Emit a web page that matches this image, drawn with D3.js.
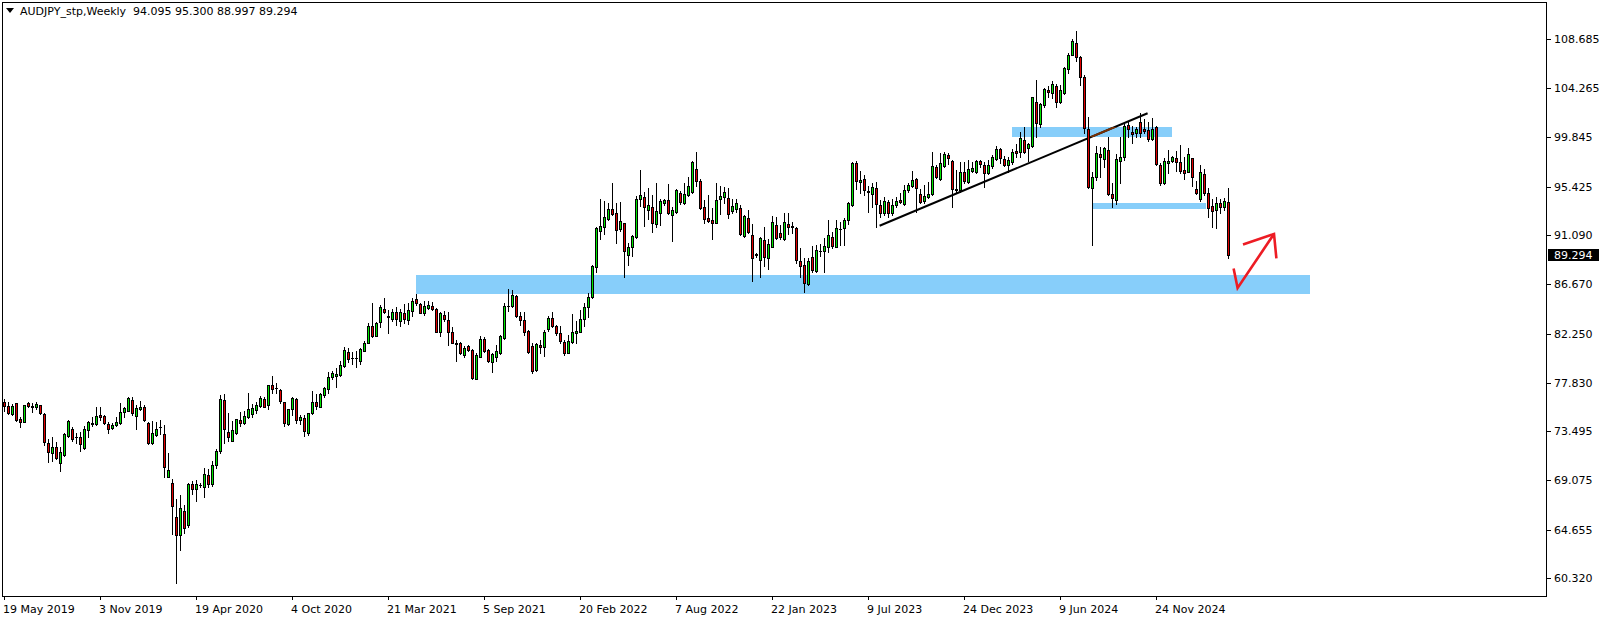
<!DOCTYPE html>
<html><head><meta charset="utf-8">
<script src="https://cdn.jsdelivr.net/npm/d3@7"></script>
<style>
html,body{margin:0;padding:0;background:#fff;overflow:hidden;}
svg{display:block;}
text{font-family:"DejaVu Sans",Tahoma,sans-serif;font-size:11px;fill:#000;white-space:pre;}
</style></head><body>
<svg id="chart" width="1604" height="621"></svg>
<script>
// ---------------- DATA ----------------
const symbolTitle = "AUDJPY_stp,Weekly";
const firstWeek = "2019-05-19";           // week of the first candle
const opens = [
76.11,75.75,75.00,75.99,74.59,74.35,75.99,75.75,75.63,75.81,
75.03,72.40,71.57,72.04,70.61,71.33,73.06,73.72,73.00,72.94,
72.01,73.57,74.14,74.11,74.92,74.83,74.11,73.75,74.08,74.20,
75.18,75.33,76.26,74.86,75.48,75.63,74.23,72.40,73.12,73.87,
73.21,69.41,68.81,65.79,64.21,66.30,65.10,68.72,68.28,68.66,
68.45,69.53,68.72,70.50,71.70,76.27,73.40,72.65,73.31,74.50,
74.23,74.80,75.01,75.40,75.76,76.39,75.82,77.61,77.34,77.16,
76.09,74.12,75.46,76.39,74.50,74.68,73.37,75.16,76.09,75.70,
76.75,77.31,78.33,78.48,78.54,79.38,80.60,80.04,80.04,79.80,
80.72,81.44,82.93,82.07,83.32,84.46,83.83,83.53,84.19,83.41,
84.12,83.50,84.31,85.33,84.88,84.13,84.55,84.73,84.43,82.43,
83.92,83.44,82.37,81.44,81.38,80.36,81.14,80.78,78.18,80.18,
81.74,80.75,79.73,80.18,80.48,81.89,84.73,84.76,85.63,83.83,
83.47,82.49,81.14,78.96,81.20,81.02,82.64,83.65,82.93,82.28,
81.50,80.54,81.53,82.28,82.43,83.53,84.67,85.51,88.20,91.48,
91.79,92.50,93.40,93.04,91.64,92.14,89.30,90.00,90.89,94.36,
94.48,93.34,93.58,92.08,93.10,93.94,94.24,92.92,93.16,94.90,
93.94,94.66,94.93,96.99,95.91,93.58,92.62,92.44,92.20,94.36,
94.54,94.42,93.22,93.40,93.49,91.01,92.62,91.10,89.36,88.83,
90.65,89.00,90.05,91.97,91.25,90.71,92.08,91.91,91.72,88.76,
88.37,86.70,89.09,87.89,89.66,89.69,89.99,90.88,90.05,91.60,
91.69,92.42,93.79,97.59,95.85,96.12,94.99,94.75,95.29,93.82,
93.04,94.06,93.04,93.76,94.24,93.88,95.14,95.50,96.09,94.75,
94.15,94.54,94.78,97.17,96.09,97.29,98.28,97.74,95.14,95.14,
96.72,95.85,96.87,96.78,97.74,97.35,96.63,97.29,97.89,98.78,
97.89,97.35,97.68,98.64,98.52,99.63,98.94,99.12,103.03,101.06,
102.73,104.11,103.87,104.47,103.06,103.87,105.96,107.28,108.30,107.04,
105.25,100.58,95.32,96.27,98.37,97.89,98.73,94.78,94.24,97.77,
98.07,100.94,100.31,100.22,101.24,100.61,100.52,99.69,100.76,97.35,
95.80,97.53,97.74,98.01,97.62,96.93,96.78,97.98,95.23,94.30,
96.58,94.84,93.70,93.34,94.00,93.58,94.095];
const highs = [
76.35,76.14,75.90,76.05,74.79,75.87,76.14,75.99,76.14,75.87,
75.15,72.79,73.00,72.55,72.10,73.30,74.50,73.84,73.30,73.42,
73.96,74.38,74.80,75.63,75.63,74.95,74.35,74.20,74.74,76.05,
75.69,76.59,76.56,75.81,76.23,75.87,74.35,74.44,74.35,74.50,
74.02,71.51,69.17,67.41,67.74,66.87,68.87,69.05,69.11,68.81,
70.16,70.13,70.80,71.90,76.71,76.84,75.10,74.42,74.62,75.22,
75.31,76.90,75.94,76.12,76.66,76.60,77.67,78.45,77.79,77.28,
76.15,75.52,76.60,76.48,74.98,74.98,75.16,77.07,76.84,76.90,
77.49,78.81,78.90,79.17,79.83,81.02,80.93,80.63,80.72,80.99,
81.56,83.23,85.03,83.32,84.85,85.42,84.37,84.43,84.61,84.49,
84.91,85.03,85.42,85.77,85.03,85.15,85.18,85.09,84.52,84.16,
84.31,84.19,82.87,81.68,81.50,81.14,81.26,80.90,80.48,82.04,
81.98,80.84,80.54,81.26,82.16,84.97,86.25,86.16,85.71,84.22,
84.19,82.58,81.44,81.44,81.68,82.58,83.86,84.22,83.02,82.96,
81.65,82.16,84.01,83.38,84.37,85.03,85.87,88.44,91.84,94.30,
94.15,93.95,95.79,94.00,94.06,92.17,90.35,91.10,94.60,96.93,
94.99,95.31,94.69,95.73,94.30,94.36,95.64,93.64,95.19,95.07,
95.79,96.27,97.77,98.54,96.15,94.24,94.69,93.49,95.79,95.49,
95.43,95.28,94.30,94.30,93.76,92.92,93.34,92.08,89.45,90.89,
91.79,90.71,92.80,92.74,91.97,93.10,93.04,92.29,91.79,89.90,
89.00,89.00,90.11,90.20,90.30,90.80,92.44,91.35,92.44,92.30,
92.62,94.08,97.68,97.77,96.87,96.48,95.50,95.74,95.88,94.24,
94.54,94.24,94.30,94.54,94.84,95.58,95.79,96.87,96.18,95.20,
95.58,95.88,98.58,97.38,98.43,98.58,98.49,97.83,96.93,97.68,
97.68,97.83,97.68,97.83,97.83,97.68,97.83,98.28,99.08,98.87,
98.16,98.10,98.85,99.27,100.34,100.76,99.39,103.51,105.01,102.91,
104.26,104.47,104.92,104.65,104.56,106.20,107.40,108.66,109.37,107.16,
105.46,101.72,96.78,99.09,99.03,99.03,99.87,95.74,98.37,99.93,
101.03,101.27,100.88,100.82,102.00,101.48,101.27,101.57,100.88,97.53,
97.98,98.73,98.19,98.67,99.15,98.07,98.88,98.04,95.98,97.38,
97.00,95.30,94.30,94.50,94.30,94.45,95.300];
const lows = [
75.33,75.03,74.94,74.44,73.90,74.32,75.69,75.21,75.45,75.00,
72.22,70.70,70.85,70.97,69.95,71.27,73.00,72.64,72.46,71.75,
71.86,73.00,73.96,74.05,74.50,74.14,73.36,73.69,73.96,74.14,
74.80,75.27,74.97,73.72,75.39,74.44,72.34,72.34,73.06,73.24,
69.35,69.35,64.24,59.85,62.83,64.39,64.87,67.86,67.26,68.51,
67.62,68.45,68.60,70.20,71.50,72.47,72.65,72.60,73.25,73.97,
74.14,74.68,74.80,75.10,75.70,75.64,75.52,76.90,76.96,76.00,
73.97,74.06,74.92,74.26,74.14,73.07,73.16,75.04,75.46,75.64,
76.60,76.90,78.21,77.49,78.45,79.26,79.74,79.53,79.23,79.53,
80.66,81.38,81.98,82.04,82.87,84.07,82.28,83.41,83.03,82.97,
83.20,83.11,83.86,84.79,84.07,83.95,84.43,84.37,82.40,82.04,
83.41,81.26,81.38,79.82,80.42,80.18,80.72,78.15,78.15,80.12,
80.63,79.73,78.84,79.82,80.42,81.80,84.31,84.67,83.77,83.02,
82.16,80.54,78.75,78.87,80.48,80.24,82.52,82.87,82.10,81.38,
80.33,80.48,81.44,81.44,82.37,82.90,83.77,85.42,87.81,90.74,
91.20,92.44,92.86,90.41,91.49,87.30,88.44,89.21,90.80,93.70,
91.91,92.50,91.40,91.79,91.99,93.82,92.98,90.53,93.10,93.88,
93.88,94.60,94.84,95.49,93.40,92.14,92.26,90.77,92.14,92.98,
93.94,92.59,93.10,93.16,91.13,90.95,91.31,87.00,89.15,87.36,
88.32,88.08,89.99,90.71,90.71,90.65,91.19,91.24,88.61,87.36,
86.01,86.64,87.80,87.80,89.20,87.80,89.60,89.90,89.99,90.20,
90.20,92.10,93.70,95.20,94.84,94.69,93.19,93.64,91.79,92.69,
92.89,92.75,92.89,93.64,93.94,93.79,94.99,95.38,93.19,93.94,
94.00,94.39,94.72,96.18,96.03,97.23,97.47,93.64,94.99,94.99,
95.79,95.74,96.78,96.63,97.23,95.44,96.57,97.08,97.83,97.53,
97.26,96.78,97.47,98.13,98.13,98.49,97.77,99.03,99.87,100.82,
102.61,103.45,103.36,102.61,102.97,103.75,105.61,107.22,106.74,104.53,
100.22,95.29,90.18,96.04,96.33,97.23,94.69,93.59,93.88,95.74,
97.83,99.87,99.39,99.93,99.93,100.22,99.57,99.63,97.38,95.56,
95.68,96.63,97.68,96.87,96.69,96.09,96.72,95.53,94.78,94.18,
94.70,92.74,91.85,91.76,93.10,93.30,88.997];
const closes = [
75.75,75.09,75.75,74.50,74.35,75.81,75.75,75.69,75.90,75.09,
72.49,71.66,72.04,71.12,71.63,73.24,74.38,72.76,72.94,72.34,
73.66,74.29,74.26,74.83,74.80,74.20,73.72,74.05,74.32,75.18,
75.57,76.44,75.09,75.54,75.69,74.50,72.46,73.33,73.66,73.84,
70.31,70.01,66.75,64.21,66.57,64.81,68.72,68.31,68.72,68.69,
69.65,68.72,70.50,71.70,76.36,73.73,73.01,73.58,74.56,74.26,
74.86,75.46,75.58,75.82,76.45,75.70,77.61,77.31,77.37,76.24,
74.21,75.46,76.51,74.53,74.77,73.55,75.10,76.09,75.76,76.84,
77.37,78.33,78.69,78.60,79.47,80.78,79.95,80.04,80.07,80.87,
81.44,82.93,82.04,83.20,84.61,84.22,83.71,84.19,83.53,84.19,
83.60,84.35,85.15,85.03,84.13,84.70,84.79,84.49,82.43,84.07,
83.53,82.43,81.44,81.35,80.48,80.99,80.78,78.27,80.36,81.74,
80.72,79.82,80.45,80.66,82.07,84.73,84.70,85.71,83.83,83.50,
82.43,80.63,78.93,81.29,81.02,82.43,83.65,82.96,82.28,81.56,
80.54,81.56,82.40,82.52,83.53,84.67,85.51,88.32,91.69,91.90,
92.68,93.40,92.98,91.55,92.35,89.69,90.02,91.01,94.30,94.66,
93.58,93.76,92.14,93.22,94.15,94.24,93.04,93.34,95.13,94.06,
94.78,95.49,97.65,95.97,93.52,92.56,92.38,92.20,94.24,94.60,
94.93,92.98,93.70,94.00,91.19,92.80,91.40,89.06,89.27,90.80,
89.15,90.29,92.23,90.80,90.89,92.26,91.79,91.79,88.85,88.31,
86.82,88.74,87.95,89.75,89.63,90.14,91.09,90.14,91.72,91.65,
92.42,93.94,97.53,95.91,96.03,95.14,95.02,95.44,93.88,93.04,
94.12,93.04,93.76,94.18,94.09,95.14,95.56,96.03,95.29,94.09,
94.60,94.75,97.29,96.33,97.53,98.37,97.98,95.20,95.26,96.72,
95.97,96.99,97.08,97.74,97.44,96.63,97.35,98.07,98.78,97.98,
97.40,97.80,98.58,98.49,99.78,98.58,99.24,103.45,101.12,102.82,
104.17,103.96,104.62,103.06,104.11,106.05,107.25,108.51,107.10,105.25,
100.67,95.38,96.33,98.43,98.13,98.88,94.78,94.39,97.89,98.07,
100.88,100.64,100.19,100.61,100.28,100.40,99.69,100.61,97.44,95.74,
97.74,97.74,98.10,97.68,96.87,96.69,98.34,96.33,94.90,96.72,
94.84,93.49,93.28,94.00,93.58,94.15,89.294];

const priceTicks = [108.685,104.265,99.845,95.425,91.090,86.670,82.250,77.830,73.495,69.075,64.655,60.320];
const dateTicks = ["2019-05-19","2019-11-03","2020-04-19","2020-10-04","2021-03-21","2021-09-05",
                   "2022-02-20","2022-08-07","2023-01-22","2023-07-09","2023-12-24","2024-06-09","2024-11-24"];
const dateTickLabels = ["19 May 2019","3 Nov 2019","19 Apr 2020","4 Oct 2020","21 Mar 2021","5 Sep 2021",
                        "20 Feb 2022","7 Aug 2022","22 Jan 2023","9 Jul 2023","24 Dec 2023","9 Jun 2024","24 Nov 2024"];
// drawn objects, in (week index, price)
const zoneStart  = [103, 252, 272];
const zoneEnd    = [326.5, 292, 300.5];
const zoneTop    = [87.51, 100.79, 93.97];
const zoneBottom = [85.83, 99.92, 93.46];
const trendWeeks  = [219, 286];
const trendPrices = [91.93, 102.02];
const arrowWeeks  = [307.5, 308.5, 317.6];
const arrowPrices = [88.09, 86.34, 91.19];
const arrowHeadWeeks  = [309.85, 317.6, 318.2];
const arrowHeadPrices = [90.24, 91.19, 88.99];

// ---------------- CHART ----------------
const W = 1604, H = 621;
const plotL = 2, plotT = 2, plotR = 1546, plotB = 596;
const svg = d3.select("#chart");
const n = closes.length;
const weekMs = 7*24*3600*1000;
const t0 = new Date(firstWeek + "T00:00:00Z").getTime();
const weekIndex = s => Math.round((new Date(s + "T00:00:00Z").getTime() - t0) / weekMs);

const x = d3.scaleLinear().domain([0, 306]).range([3.6, 1227.6]);
const y = d3.scaleLinear().domain([60.32, 108.685]).range([578, 38.97]);

svg.append("rect").attr("width", W).attr("height", H).attr("fill", "#fff");

const clipId = "plotclip";
svg.append("clipPath").attr("id", clipId).append("rect")
  .attr("x", plotL).attr("y", plotT).attr("width", plotR - plotL).attr("height", plotB - plotT);
const plot = svg.append("g").attr("clip-path", `url(#${clipId})`);

// zones
const zones = d3.range(zoneStart.length);
plot.selectAll("rect.zone").data(zones).join("rect").attr("class", "zone")
  .attr("x", d => Math.round(x(zoneStart[d])))
  .attr("y", d => Math.round(y(zoneTop[d])))
  .attr("width", d => Math.round(x(zoneEnd[d])) - Math.round(x(zoneStart[d])))
  .attr("height", d => Math.round(y(zoneBottom[d])) - Math.round(y(zoneTop[d])))
  .attr("fill", "#87CEFA");

// trend line (black) and its XOR-looking part inside the upper zone (brown)
const trendPts = trendWeeks.map((w, k) => [x(w), y(trendPrices[k])]);
plot.append("path").attr("d", d3.line()(trendPts))
  .attr("stroke", "#000").attr("stroke-width", 2).attr("fill", "none");
svg.append("clipPath").attr("id", "zoneclip").append("rect")
  .attr("x", Math.round(x(zoneStart[1]))).attr("y", Math.round(y(zoneTop[1])))
  .attr("width", Math.round(x(zoneEnd[1])) - Math.round(x(zoneStart[1])))
  .attr("height", Math.round(y(zoneBottom[1])) - Math.round(y(zoneTop[1])));
plot.append("path").attr("d", d3.line()(trendPts)).attr("clip-path", "url(#zoneclip)")
  .attr("stroke", "#783105").attr("stroke-width", 2).attr("fill", "none");

// candles
const cg = plot.append("g").attr("shape-rendering", "crispEdges");
const idx = d3.range(n);
const px = i => Math.round(x(i));
cg.selectAll("rect.wick").data(idx).join("rect").attr("class", "wick")
  .attr("x", i => px(i)).attr("width", 1)
  .attr("y", i => Math.round(y(highs[i])))
  .attr("height", i => Math.round(y(lows[i])) - Math.round(y(highs[i])) + 1)
  .attr("fill", "#000");
const bTop = i => Math.round(y(Math.max(opens[i], closes[i])));
const bBot = i => Math.round(y(Math.min(opens[i], closes[i])));
cg.selectAll("rect.body").data(idx).join("rect").attr("class", "body")
  .attr("x", i => px(i) - 1).attr("width", 3)
  .attr("y", bTop).attr("height", i => bBot(i) - bTop(i) + 1)
  .attr("fill", "#000");
cg.selectAll("rect.fill").data(idx.filter(i => bBot(i) - bTop(i) >= 2)).join("rect").attr("class", "fill")
  .attr("x", i => px(i)).attr("width", 1)
  .attr("y", i => bTop(i) + 1).attr("height", i => bBot(i) - bTop(i) - 1)
  .attr("fill", i => closes[i] >= opens[i] ? "#00E600" : "#E00000");

// red hand-drawn arrow
const arrowLine = d3.line();
plot.append("path").attr("d", arrowLine(arrowWeeks.map((w, k) => [x(w), y(arrowPrices[k])])))
  .attr("stroke", "#ED1C24").attr("stroke-width", 2.6).attr("fill", "none").attr("stroke-linejoin", "miter");
plot.append("path").attr("d", arrowLine(arrowHeadWeeks.map((w, k) => [x(w), y(arrowHeadPrices[k])])))
  .attr("stroke", "#ED1C24").attr("stroke-width", 2.6).attr("fill", "none");

// frame
svg.append("rect").attr("x", plotL + 0.5).attr("y", plotT + 0.5)
  .attr("width", plotR - plotL).attr("height", plotB - plotT)
  .attr("fill", "none").attr("stroke", "#000").attr("stroke-width", 1);

// right price axis
const ya = svg.append("g").attr("shape-rendering", "crispEdges");
ya.selectAll("line").data(priceTicks).join("line")
  .attr("x1", plotR + 0.5).attr("x2", plotR + 4.5)
  .attr("y1", d => Math.round(y(d)) + 0.5).attr("y2", d => Math.round(y(d)) + 0.5)
  .attr("stroke", "#000");
svg.append("g").selectAll("text").data(priceTicks).join("text")
  .attr("x", plotR + 8).attr("y", d => Math.round(y(d)) + 4)
  .text(d => d.toFixed(3));

// current price box
const last = closes[n - 1];
const yl = Math.round(y(last));
svg.append("rect").attr("x", plotR + 2).attr("y", yl - 6).attr("width", 51).attr("height", 12).attr("fill", "#000");
svg.append("text").attr("x", plotR + 8).attr("y", yl + 4).style("fill", "#fff").text(last.toFixed(3));

// bottom time axis
const tickX = dateTicks.map(s => Math.round(x(weekIndex(s))));
svg.append("g").attr("shape-rendering", "crispEdges").selectAll("line").data(tickX).join("line")
  .attr("x1", d => d + 0.5).attr("x2", d => d + 0.5)
  .attr("y1", plotB).attr("y2", plotB + 4).attr("stroke", "#000");
svg.append("g").selectAll("text").data(dateTickLabels).join("text")
  .attr("x", (d, k) => tickX[k] - 1).attr("y", 613).text(d => d);

// title
svg.append("path").attr("d", "M6,8 L14,8 L10,13 Z").attr("fill", "#000");
svg.append("text").attr("x", 20).attr("y", 15)
  .text(symbolTitle + "  " + [opens[n-1], highs[n-1], lows[n-1], closes[n-1]].map(v => v.toFixed(3)).join(" "));
</script>
</body></html>
